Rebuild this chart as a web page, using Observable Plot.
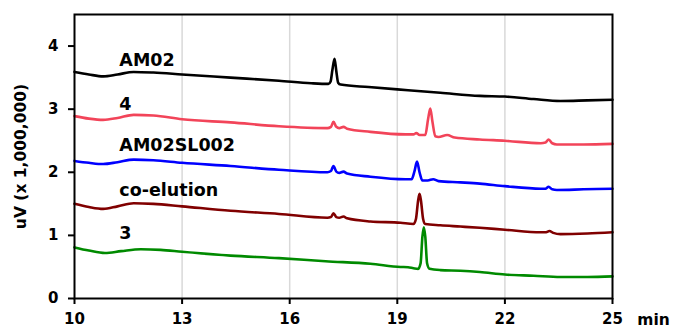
<!DOCTYPE html>
<html>
<head>
<meta charset="utf-8">
<script src="https://cdn.jsdelivr.net/npm/d3@7"></script>
<script src="https://cdn.jsdelivr.net/npm/@observablehq/plot@0.6"></script>
<style>
  html, body { margin: 0; padding: 0; background: white; }
</style>
</head>
<body>
<div id="chart"></div>
<script>
// Series names and label positions (data units: minutes, uV x 1,000,000)
const seriesNames = ["AM02", "4", "AM02SL002", "co-elution", "3"];
const seriesColors = ["#000000", "#f24459", "#0000ff", "#800000", "#008a00"];
const labelMin = [11.25, 11.25, 11.25, 11.25, 11.25];
const labelVal = [3.78, 3.08, 2.43, 1.71, 1.03];

const xTicks = [10, 13, 16, 19, 22, 25];
const yTicks = [0, 1, 2, 3, 4];
const gridMinutes = [13, 16, 19, 22];

// AM02
const am02T = [10.0, 10.4, 10.8, 11.2, 11.65, 12.2, 13.0, 14.35, 15.7, 16.6, 17.08, 17.14, 17.19, 17.25, 17.30, 17.35, 17.42, 18.2, 19.3, 20.2, 21.3, 22.0, 22.8, 23.55, 24.3, 25.0];
const am02V = [3.59, 3.55, 3.52, 3.55, 3.59, 3.58, 3.55, 3.50, 3.45, 3.41, 3.40, 3.44, 3.62, 3.80, 3.60, 3.42, 3.39, 3.35, 3.30, 3.26, 3.21, 3.20, 3.16, 3.13, 3.14, 3.15];

// 4
const s4T = [10.0, 10.4, 10.8, 11.2, 11.65, 12.2, 13.0, 14.35, 15.7, 17.05, 17.15, 17.22, 17.3, 17.38, 17.5, 17.6, 18.25, 19.23, 19.45, 19.53, 19.62, 19.78, 19.86, 19.92, 19.98, 20.06, 20.15, 20.39, 20.6, 21.3, 22.0, 23.0, 23.13, 23.22, 23.32, 23.45, 24.2, 25.0];
const s4V = [2.89, 2.85, 2.83, 2.86, 2.91, 2.90, 2.84, 2.79, 2.73, 2.70, 2.72, 2.80, 2.72, 2.70, 2.72, 2.69, 2.64, 2.60, 2.60, 2.62, 2.59, 2.59, 2.85, 3.01, 2.80, 2.57, 2.56, 2.59, 2.55, 2.52, 2.50, 2.46, 2.47, 2.52, 2.46, 2.44, 2.44, 2.45];

// AM02SL002
const slT = [10.0, 10.4, 10.8, 11.2, 11.65, 12.2, 13.0, 14.35, 15.7, 17.05, 17.15, 17.22, 17.3, 17.38, 17.5, 17.6, 18.25, 19.23, 19.40, 19.48, 19.55, 19.62, 19.70, 19.85, 20.0, 20.15, 20.76, 21.3, 22.0, 23.0, 23.13, 23.22, 23.32, 23.45, 24.2, 25.0];
const slV = [2.18, 2.15, 2.13, 2.16, 2.20, 2.19, 2.15, 2.10, 2.04, 2.00, 2.02, 2.10, 2.01, 1.99, 2.01, 1.98, 1.93, 1.89, 1.89, 2.02, 2.17, 2.00, 1.87, 1.87, 1.89, 1.86, 1.84, 1.82, 1.78, 1.74, 1.74, 1.77, 1.73, 1.72, 1.73, 1.74];

// co-elution
const coT = [10.0, 10.4, 10.8, 11.2, 11.65, 12.2, 13.0, 14.35, 15.7, 17.05, 17.15, 17.22, 17.3, 17.38, 17.5, 17.6, 18.25, 19.09, 19.45, 19.52, 19.58, 19.62, 19.66, 19.72, 19.78, 20.2, 20.76, 21.3, 22.0, 23.0, 23.15, 23.24, 23.35, 23.55, 24.3, 25.0];
const coV = [1.50, 1.45, 1.42, 1.46, 1.51, 1.50, 1.46, 1.39, 1.34, 1.28, 1.29, 1.35, 1.29, 1.28, 1.30, 1.27, 1.22, 1.20, 1.18, 1.26, 1.55, 1.66, 1.55, 1.26, 1.18, 1.16, 1.14, 1.12, 1.09, 1.05, 1.05, 1.07, 1.04, 1.02, 1.03, 1.05];

// 3
const s3T = [10.0, 10.4, 10.85, 11.3, 11.85, 12.4, 13.0, 14.35, 15.7, 17.0, 18.25, 19.09, 19.3, 19.45, 19.58, 19.65, 19.70, 19.74, 19.78, 19.83, 19.90, 20.2, 20.76, 21.3, 22.0, 22.8, 23.55, 24.3, 25.0];
const s3V = [0.81, 0.76, 0.72, 0.75, 0.78, 0.77, 0.74, 0.68, 0.64, 0.59, 0.55, 0.50, 0.495, 0.48, 0.47, 0.56, 0.98, 1.13, 0.98, 0.56, 0.47, 0.45, 0.44, 0.42, 0.38, 0.36, 0.34, 0.34, 0.35];

const seriesT = [am02T, s4T, slT, coT, s3T];
const seriesV = [am02V, s4V, slV, coV, s3V];

const lineMarks = seriesNames.map((name, i) => {
  const rows = seriesT[i].map((t, j) => ({t, v: seriesV[i][j], name}));
  return Plot.line(rows, {x: "t", y: "v", stroke: seriesColors[i], strokeWidth: 2.6, curve: "monotone-x"});
});

const labels = seriesNames.map((name, i) => ({name, t: labelMin[i], v: labelVal[i]}));

const FONT = "'DejaVu Sans', 'Liberation Sans', Arial, sans-serif";

const chart = Plot.plot({
  width: 674,
  height: 332,
  marginLeft: 74,
  marginRight: 62,
  marginTop: 14,
  marginBottom: 34,
  x: {domain: [10, 25]},
  y: {domain: [0, 4.5]},
  style: {fontFamily: FONT, fontSize: "15px", fontWeight: "bold", background: "white", color: "black"},
  marks: [
    Plot.ruleX(gridMinutes, {stroke: "#d9d9d9", strokeWidth: 1.5}),
    ...lineMarks,
    Plot.frame({stroke: "black", strokeWidth: 2}),
    Plot.axisX({ticks: xTicks, tickSize: 6, tickPadding: 9, strokeWidth: 2, label: null, tickFormat: d => String(d)}),
    Plot.axisY({ticks: yTicks, tickSize: 6, tickPadding: 10, strokeWidth: 2, label: null, tickFormat: d => String(d)}),
    Plot.text(labels, {x: "t", y: "v", text: "name", textAnchor: "start", fontSize: 17.5, fontWeight: "bold", fill: "black"}),
    Plot.text(["min"], {frameAnchor: "bottom-right", dx: 41, dy: 22, textAnchor: "middle", lineAnchor: "middle", fontSize: 15.5, fontWeight: "bold"}),
    Plot.text(["uV (x 1,000,000)"], {frameAnchor: "left", dx: -53, rotate: -90, textAnchor: "middle", lineAnchor: "middle", fontSize: 15.5, fontWeight: "bold"})
  ]
});

document.getElementById("chart").appendChild(chart);
</script>
</body>
</html>
